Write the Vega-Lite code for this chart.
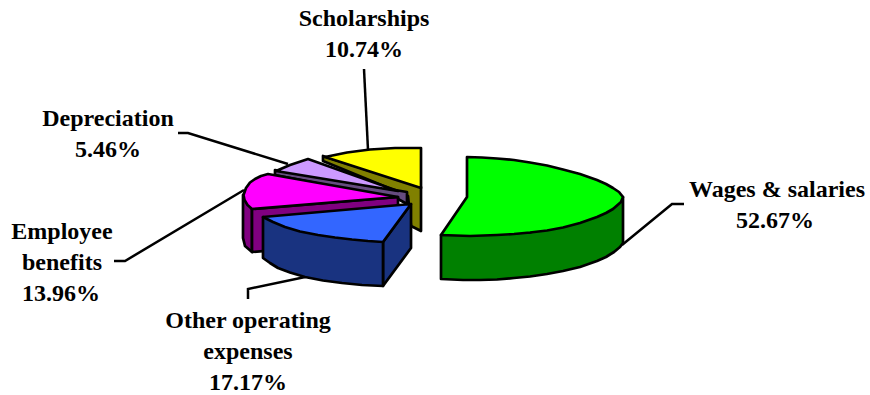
{
  "$schema": "https://vega.github.io/schema/vega-lite/v6.json",
  "autosize": {"type": "fit", "contains": "padding"},
  "padding": 0,
  "width": 870,
  "height": 395,
  "background": "white",
  "view": {"stroke": null},
  "datasets": {
    "leaders": [
      {"id": "Scholarships", "v": 1, "x": 364, "y": 69},
      {"id": "Scholarships", "v": 2, "x": 368, "y": 150},
      {"id": "Depreciation", "v": 1, "x": 178, "y": 133},
      {"id": "Depreciation", "v": 2, "x": 188, "y": 133},
      {"id": "Depreciation", "v": 3, "x": 288, "y": 164},
      {"id": "Employee benefits", "v": 1, "x": 114, "y": 261},
      {"id": "Employee benefits", "v": 2, "x": 125, "y": 261},
      {"id": "Employee benefits", "v": 3, "x": 244, "y": 190},
      {"id": "Other operating expenses", "v": 1, "x": 248, "y": 299},
      {"id": "Other operating expenses", "v": 2, "x": 248, "y": 289},
      {"id": "Other operating expenses", "v": 3, "x": 310, "y": 276},
      {"id": "Wages & salaries", "v": 1, "x": 684, "y": 204},
      {"id": "Wages & salaries", "v": 2, "x": 672, "y": 204},
      {"id": "Wages & salaries", "v": 3, "x": 622, "y": 245}
    ],
    "faces": [
      {"face": "Scholarships side", "colour": "#808000", "v": 1, "x": 323, "y": 156},
      {"face": "Scholarships side", "colour": "#808000", "v": 2, "x": 323, "y": 161},
      {"face": "Scholarships side", "colour": "#808000", "v": 3, "x": 408, "y": 196},
      {"face": "Scholarships side", "colour": "#808000", "v": 4, "x": 411, "y": 226},
      {"face": "Scholarships side", "colour": "#808000", "v": 5, "x": 421, "y": 231},
      {"face": "Scholarships side", "colour": "#808000", "v": 6, "x": 421, "y": 187},

      {"face": "Scholarships top", "colour": "#FFFF00", "v": 1, "x": 421, "y": 148},
      {"face": "Scholarships top", "colour": "#FFFF00", "v": 2, "x": 395, "y": 148},
      {"face": "Scholarships top", "colour": "#FFFF00", "v": 3, "x": 370, "y": 149.5},
      {"face": "Scholarships top", "colour": "#FFFF00", "v": 4, "x": 347, "y": 152.5},
      {"face": "Scholarships top", "colour": "#FFFF00", "v": 5, "x": 325, "y": 157},
      {"face": "Scholarships top", "colour": "#FFFF00", "v": 6, "x": 421, "y": 188},

      {"face": "Depreciation side", "colour": "#664C80", "v": 1, "x": 275, "y": 170},
      {"face": "Depreciation side", "colour": "#664C80", "v": 2, "x": 275, "y": 175},
      {"face": "Depreciation side", "colour": "#664C80", "v": 3, "x": 398, "y": 199},
      {"face": "Depreciation side", "colour": "#664C80", "v": 4, "x": 407, "y": 204},
      {"face": "Depreciation side", "colour": "#664C80", "v": 5, "x": 407, "y": 192},

      {"face": "Depreciation top", "colour": "#CC99FF", "v": 1, "x": 276, "y": 171},
      {"face": "Depreciation top", "colour": "#CC99FF", "v": 2, "x": 290, "y": 165},
      {"face": "Depreciation top", "colour": "#CC99FF", "v": 3, "x": 308, "y": 159},
      {"face": "Depreciation top", "colour": "#CC99FF", "v": 4, "x": 398, "y": 191},

      {"face": "Employee benefits rim", "colour": "#800080", "v": 1, "x": 243, "y": 195},
      {"face": "Employee benefits rim", "colour": "#800080", "v": 2, "x": 243, "y": 238},
      {"face": "Employee benefits rim", "colour": "#800080", "v": 3, "x": 245, "y": 246},
      {"face": "Employee benefits rim", "colour": "#800080", "v": 4, "x": 252, "y": 252},
      {"face": "Employee benefits rim", "colour": "#800080", "v": 5, "x": 252, "y": 209},

      {"face": "Employee benefits side", "colour": "#800080", "v": 1, "x": 252, "y": 209},
      {"face": "Employee benefits side", "colour": "#800080", "v": 2, "x": 252, "y": 252},
      {"face": "Employee benefits side", "colour": "#800080", "v": 3, "x": 398, "y": 240},
      {"face": "Employee benefits side", "colour": "#800080", "v": 4, "x": 398, "y": 197},

      {"face": "Employee benefits top", "colour": "#FF00FF", "v": 1, "x": 268, "y": 174},
      {"face": "Employee benefits top", "colour": "#FF00FF", "v": 2, "x": 261, "y": 176},
      {"face": "Employee benefits top", "colour": "#FF00FF", "v": 3, "x": 255, "y": 179},
      {"face": "Employee benefits top", "colour": "#FF00FF", "v": 4, "x": 250, "y": 182.5},
      {"face": "Employee benefits top", "colour": "#FF00FF", "v": 5, "x": 246, "y": 188},
      {"face": "Employee benefits top", "colour": "#FF00FF", "v": 6, "x": 243.5, "y": 195},
      {"face": "Employee benefits top", "colour": "#FF00FF", "v": 7, "x": 244.5, "y": 200},
      {"face": "Employee benefits top", "colour": "#FF00FF", "v": 8, "x": 247.5, "y": 205},
      {"face": "Employee benefits top", "colour": "#FF00FF", "v": 9, "x": 252, "y": 209},
      {"face": "Employee benefits top", "colour": "#FF00FF", "v": 10, "x": 398, "y": 197},

      {"face": "Other operating expenses side", "colour": "#193380", "v": 1, "x": 383, "y": 242},
      {"face": "Other operating expenses side", "colour": "#193380", "v": 2, "x": 383, "y": 286},
      {"face": "Other operating expenses side", "colour": "#193380", "v": 3, "x": 411, "y": 248},
      {"face": "Other operating expenses side", "colour": "#193380", "v": 4, "x": 411, "y": 204},

      {"face": "Other operating expenses front", "colour": "#193380", "v": 1, "x": 263, "y": 217},
      {"face": "Other operating expenses front", "colour": "#193380", "v": 2, "x": 263, "y": 258},
      {"face": "Other operating expenses front", "colour": "#193380", "v": 3, "x": 270, "y": 263},
      {"face": "Other operating expenses front", "colour": "#193380", "v": 4, "x": 278, "y": 268},
      {"face": "Other operating expenses front", "colour": "#193380", "v": 5, "x": 290, "y": 272.5},
      {"face": "Other operating expenses front", "colour": "#193380", "v": 6, "x": 305, "y": 277},
      {"face": "Other operating expenses front", "colour": "#193380", "v": 7, "x": 323, "y": 280.5},
      {"face": "Other operating expenses front", "colour": "#193380", "v": 8, "x": 342, "y": 283},
      {"face": "Other operating expenses front", "colour": "#193380", "v": 9, "x": 362, "y": 285},
      {"face": "Other operating expenses front", "colour": "#193380", "v": 10, "x": 383, "y": 286},
      {"face": "Other operating expenses front", "colour": "#193380", "v": 11, "x": 383, "y": 242},

      {"face": "Other operating expenses top", "colour": "#3366FF", "v": 1, "x": 263, "y": 217},
      {"face": "Other operating expenses top", "colour": "#3366FF", "v": 2, "x": 411, "y": 204},
      {"face": "Other operating expenses top", "colour": "#3366FF", "v": 3, "x": 383, "y": 242},
      {"face": "Other operating expenses top", "colour": "#3366FF", "v": 4, "x": 368, "y": 241},
      {"face": "Other operating expenses top", "colour": "#3366FF", "v": 5, "x": 352, "y": 239.5},
      {"face": "Other operating expenses top", "colour": "#3366FF", "v": 6, "x": 335, "y": 237.5},
      {"face": "Other operating expenses top", "colour": "#3366FF", "v": 7, "x": 318, "y": 235},
      {"face": "Other operating expenses top", "colour": "#3366FF", "v": 8, "x": 300, "y": 231.5},
      {"face": "Other operating expenses top", "colour": "#3366FF", "v": 9, "x": 285, "y": 227},
      {"face": "Other operating expenses top", "colour": "#3366FF", "v": 10, "x": 273, "y": 222},

      {"face": "Wages & salaries side", "colour": "#008000", "v": 1, "x": 441, "y": 235},
      {"face": "Wages & salaries side", "colour": "#008000", "v": 2, "x": 441, "y": 279},
      {"face": "Wages & salaries side", "colour": "#008000", "v": 3, "x": 463, "y": 280},
      {"face": "Wages & salaries side", "colour": "#008000", "v": 4, "x": 480, "y": 280},
      {"face": "Wages & salaries side", "colour": "#008000", "v": 5, "x": 497, "y": 279.5},
      {"face": "Wages & salaries side", "colour": "#008000", "v": 6, "x": 514, "y": 278},
      {"face": "Wages & salaries side", "colour": "#008000", "v": 7, "x": 530, "y": 276.5},
      {"face": "Wages & salaries side", "colour": "#008000", "v": 8, "x": 547, "y": 274},
      {"face": "Wages & salaries side", "colour": "#008000", "v": 9, "x": 563, "y": 271},
      {"face": "Wages & salaries side", "colour": "#008000", "v": 10, "x": 580, "y": 267},
      {"face": "Wages & salaries side", "colour": "#008000", "v": 11, "x": 597, "y": 261},
      {"face": "Wages & salaries side", "colour": "#008000", "v": 12, "x": 606, "y": 257},
      {"face": "Wages & salaries side", "colour": "#008000", "v": 13, "x": 614, "y": 252},
      {"face": "Wages & salaries side", "colour": "#008000", "v": 14, "x": 620, "y": 247},
      {"face": "Wages & salaries side", "colour": "#008000", "v": 15, "x": 623, "y": 243},
      {"face": "Wages & salaries side", "colour": "#008000", "v": 16, "x": 623, "y": 197},
      {"face": "Wages & salaries side", "colour": "#008000", "v": 17, "x": 530, "y": 232.5},

      {"face": "Wages & salaries top", "colour": "#00FF00", "v": 1, "x": 467, "y": 157},
      {"face": "Wages & salaries top", "colour": "#00FF00", "v": 2, "x": 482, "y": 157.5},
      {"face": "Wages & salaries top", "colour": "#00FF00", "v": 3, "x": 497, "y": 158.5},
      {"face": "Wages & salaries top", "colour": "#00FF00", "v": 4, "x": 514, "y": 160},
      {"face": "Wages & salaries top", "colour": "#00FF00", "v": 5, "x": 530, "y": 162.5},
      {"face": "Wages & salaries top", "colour": "#00FF00", "v": 6, "x": 547, "y": 165.5},
      {"face": "Wages & salaries top", "colour": "#00FF00", "v": 7, "x": 563, "y": 169.5},
      {"face": "Wages & salaries top", "colour": "#00FF00", "v": 8, "x": 580, "y": 174},
      {"face": "Wages & salaries top", "colour": "#00FF00", "v": 9, "x": 597, "y": 180},
      {"face": "Wages & salaries top", "colour": "#00FF00", "v": 10, "x": 606, "y": 184},
      {"face": "Wages & salaries top", "colour": "#00FF00", "v": 11, "x": 613, "y": 188},
      {"face": "Wages & salaries top", "colour": "#00FF00", "v": 12, "x": 619, "y": 192},
      {"face": "Wages & salaries top", "colour": "#00FF00", "v": 13, "x": 623, "y": 197},
      {"face": "Wages & salaries top", "colour": "#00FF00", "v": 14, "x": 621, "y": 202},
      {"face": "Wages & salaries top", "colour": "#00FF00", "v": 15, "x": 613, "y": 209},
      {"face": "Wages & salaries top", "colour": "#00FF00", "v": 16, "x": 606, "y": 213},
      {"face": "Wages & salaries top", "colour": "#00FF00", "v": 17, "x": 597, "y": 217},
      {"face": "Wages & salaries top", "colour": "#00FF00", "v": 18, "x": 580, "y": 223},
      {"face": "Wages & salaries top", "colour": "#00FF00", "v": 19, "x": 563, "y": 227.5},
      {"face": "Wages & salaries top", "colour": "#00FF00", "v": 20, "x": 547, "y": 230.5},
      {"face": "Wages & salaries top", "colour": "#00FF00", "v": 21, "x": 530, "y": 232.5},
      {"face": "Wages & salaries top", "colour": "#00FF00", "v": 22, "x": 514, "y": 234},
      {"face": "Wages & salaries top", "colour": "#00FF00", "v": 23, "x": 497, "y": 235},
      {"face": "Wages & salaries top", "colour": "#00FF00", "v": 24, "x": 470, "y": 236},
      {"face": "Wages & salaries top", "colour": "#00FF00", "v": 25, "x": 441, "y": 235},
      {"face": "Wages & salaries top", "colour": "#00FF00", "v": 26, "x": 467, "y": 197}
    ],
    "labels": [
      {"text": "Scholarships", "x": 364, "y": 26},
      {"text": "10.74%", "x": 364, "y": 57},
      {"text": "Depreciation", "x": 108, "y": 126},
      {"text": "5.46%", "x": 108, "y": 157},
      {"text": "Employee", "x": 62, "y": 239},
      {"text": "benefits", "x": 62, "y": 270},
      {"text": "13.96%", "x": 61, "y": 301},
      {"text": "Other operating", "x": 248, "y": 328},
      {"text": "expenses", "x": 248, "y": 359},
      {"text": "17.17%", "x": 248, "y": 390},
      {"text": "Wages & salaries", "x": 777, "y": 197},
      {"text": "52.67%", "x": 775, "y": 228}
    ]
  },
  "layer": [
    {
      "data": {"name": "leaders"},
      "mark": {"type": "line", "stroke": "black", "strokeWidth": 2.5},
      "encoding": {
        "x": {"field": "x", "type": "quantitative", "scale": {"domain": [0, 870], "nice": false}, "axis": null},
        "y": {"field": "y", "type": "quantitative", "scale": {"domain": [395, 0], "nice": false}, "axis": null},
        "detail": {"field": "id"},
        "order": {"field": "v", "type": "quantitative"}
      }
    },
    {
      "data": {"name": "faces"},
      "mark": {"type": "line", "interpolate": "linear-closed", "stroke": "black", "strokeWidth": 2.7, "strokeJoin": "round"},
      "encoding": {
        "x": {"field": "x", "type": "quantitative", "scale": {"domain": [0, 870], "nice": false}, "axis": null},
        "y": {"field": "y", "type": "quantitative", "scale": {"domain": [395, 0], "nice": false}, "axis": null},
        "detail": {"field": "face"},
        "fill": {"field": "colour", "type": "nominal", "scale": null, "legend": null},
        "order": {"field": "v", "type": "quantitative"}
      }
    },
    {
      "data": {"name": "labels"},
      "mark": {"type": "text", "font": "Liberation Serif", "fontWeight": "bold", "fontSize": 24, "align": "center", "baseline": "alphabetic", "fill": "black"},
      "encoding": {
        "x": {"field": "x", "type": "quantitative", "scale": {"domain": [0, 870], "nice": false}, "axis": null},
        "y": {"field": "y", "type": "quantitative", "scale": {"domain": [395, 0], "nice": false}, "axis": null},
        "text": {"field": "text"}
      }
    }
  ]
}
